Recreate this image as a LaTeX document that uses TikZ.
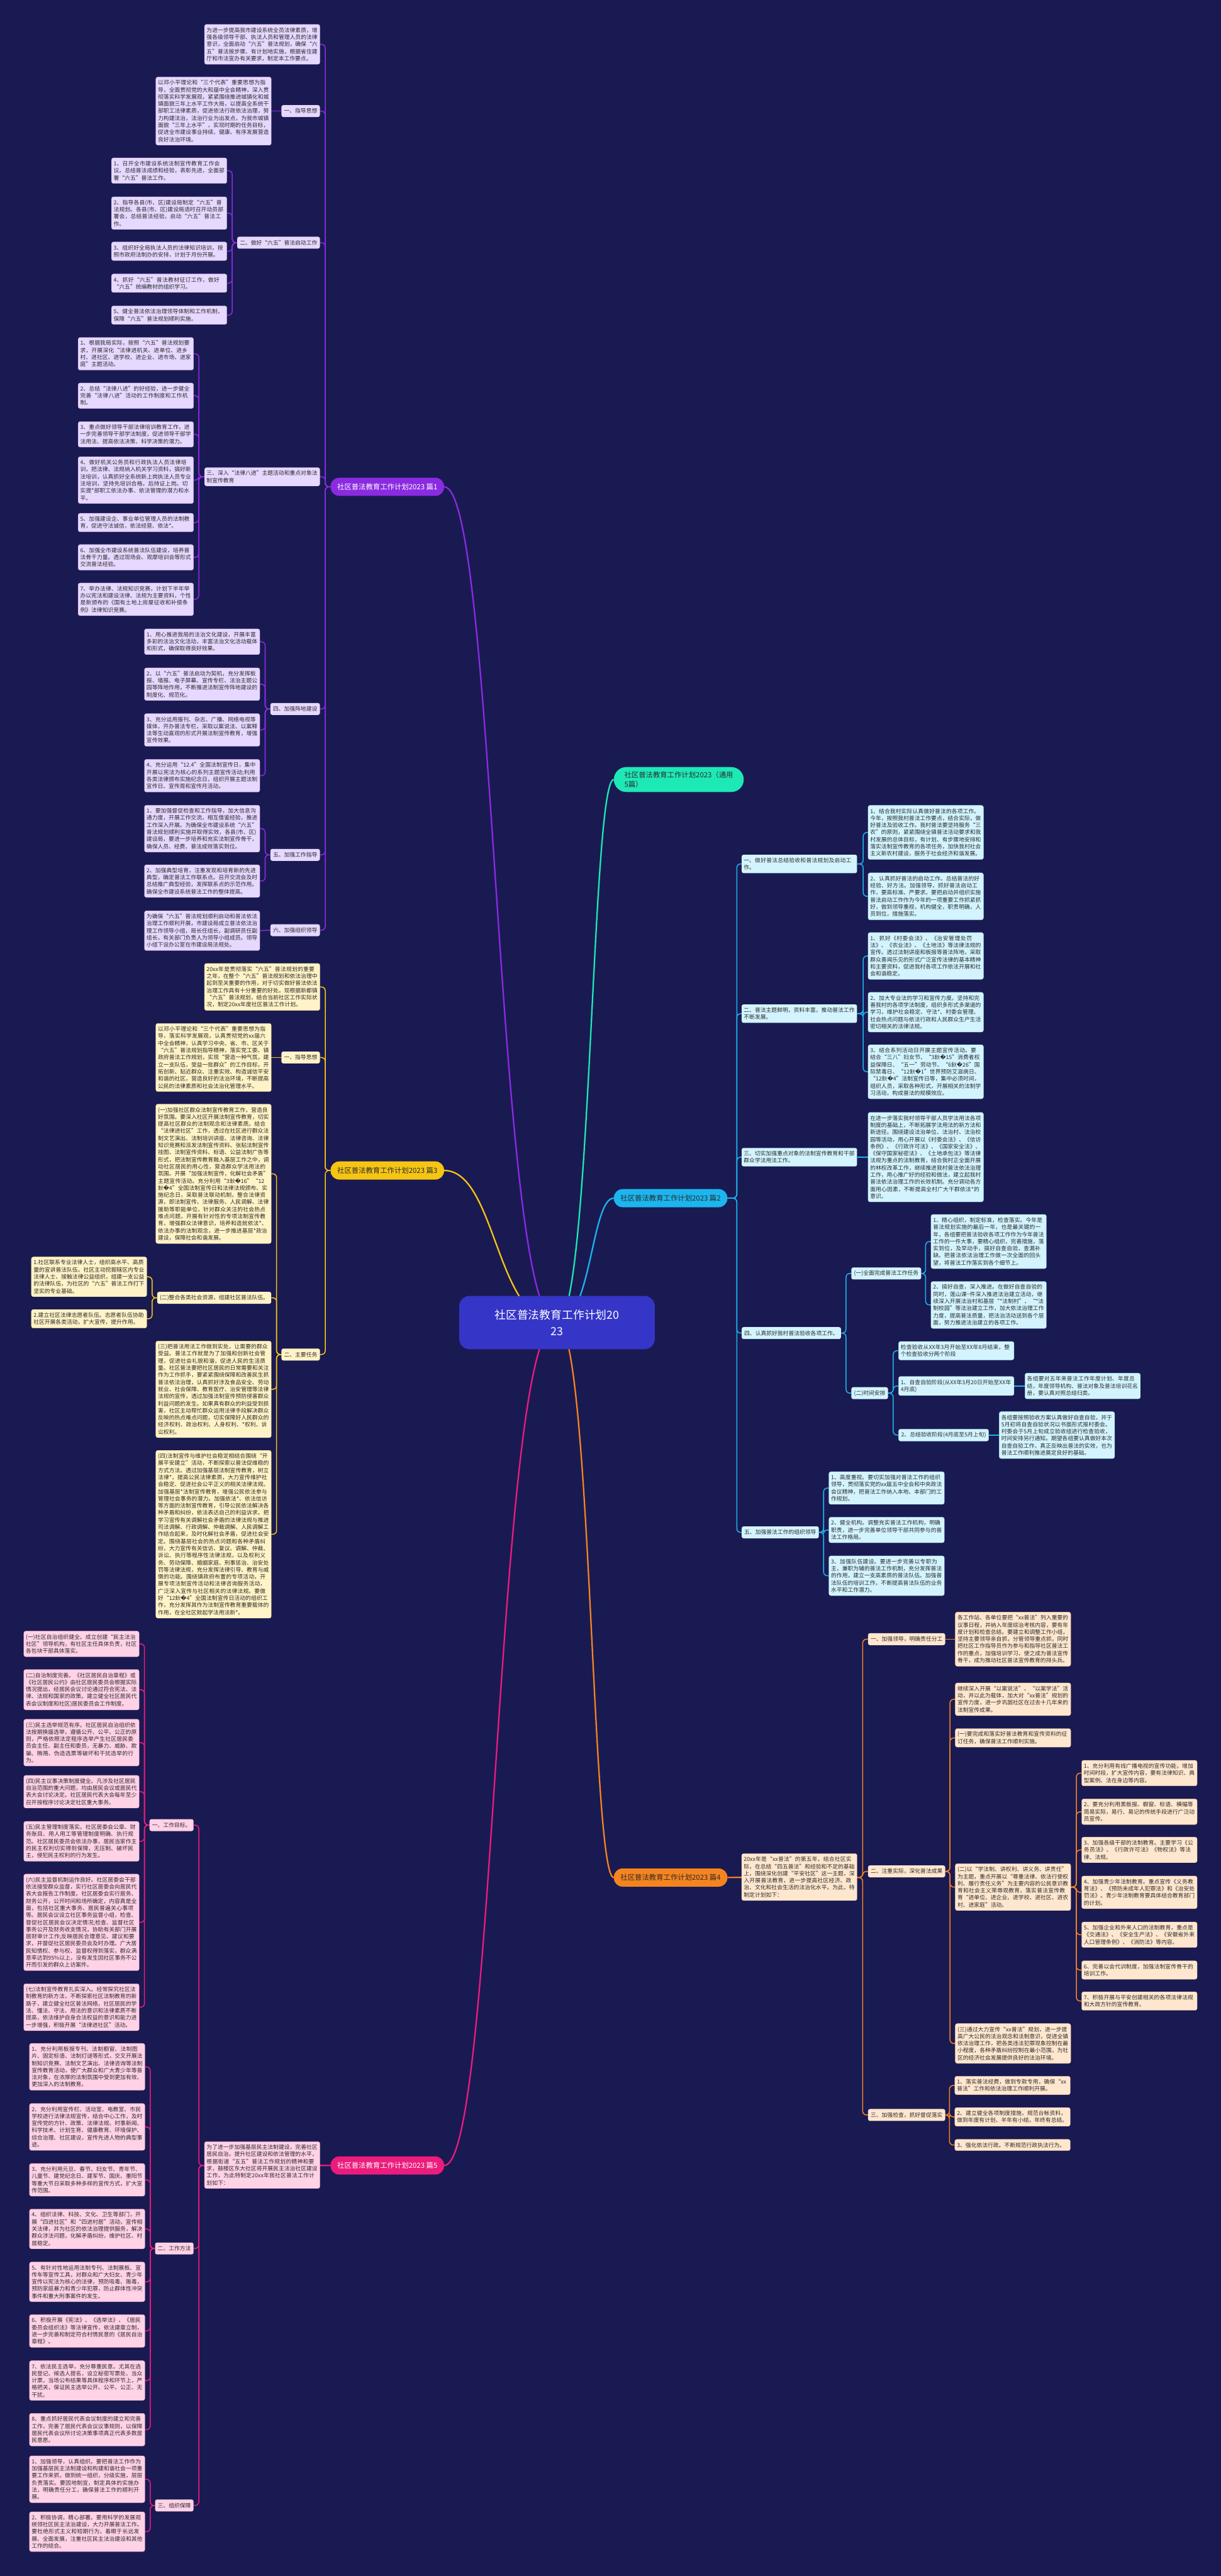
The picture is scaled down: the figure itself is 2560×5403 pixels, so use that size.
\documentclass[tikz,border=0pt]{standalone}
\usepackage{fontspec}
\setmainfont{Noto Sans CJK SC}
\newfontfamily\dvs{DejaVu Sans}
\usepackage{tikz}
\usetikzlibrary{calc}
\XeTeXlinebreaklocale "zh"
\XeTeXlinebreakskip=0pt plus 1pt

\definecolor{bgc}{HTML}{1A1A52}
\definecolor{rootc}{HTML}{3535C8}
\definecolor{pc}{HTML}{8A2BE2}
\definecolor{pl}{HTML}{E6D8FF}
\definecolor{yc}{HTML}{F6C514}
\definecolor{yl}{HTML}{FFF3C7}
\definecolor{kc}{HTML}{EC1C7C}
\definecolor{kl}{HTML}{FFD2E6}
\definecolor{cc}{HTML}{1CB5EE}
\definecolor{cl}{HTML}{D3F4FF}
\definecolor{oc}{HTML}{F5841F}
\definecolor{ol}{HTML}{FFE7CF}
\definecolor{tc}{HTML}{1DE9B6}
\definecolor{txt}{HTML}{2B2B2B}

\newcommand\leaffnt{\fontsize{11.6}{14.9}\selectfont}
\newcommand\topicfnt{\fontsize{15}{20}\selectfont}
\newcommand\bad{{\dvs �}}

\pgfdeclarelayer{bg}
\pgfsetlayers{bg,main}

\tikzset{
  box/.style={rounded corners=4pt, inner xsep=4.5pt, inner ysep=6.5pt, text width=233pt, align=left, font=\leaffnt, text=txt},
  tag/.style={rounded corners=4pt, inner xsep=5.5pt, inner ysep=4pt, minimum height=25pt, font=\leaffnt, text=txt},
  wtag/.style={tag, text width=233pt, align=left, inner xsep=4.5pt, inner ysep=6.5pt},
  topic/.style={rounded corners=18pt, minimum height=38pt, inner xsep=14pt, font=\topicfnt},
  pbox/.style={box, fill=pl, draw=pc!40},
  ybox/.style={box, fill=yl, draw=yc!50},
  kbox/.style={box, fill=kl, draw=kc!40},
  cbox/.style={box, fill=cl, draw=cc!40},
  obox/.style={box, fill=ol, draw=oc!40},
  plk/.style={draw=pc, line width=2pt, rounded corners=8pt},
  ylk/.style={draw=yc, line width=2pt, rounded corners=8pt},
  klk/.style={draw=kc, line width=2pt, rounded corners=8pt},
  clk/.style={draw=cc, line width=2pt, rounded corners=8pt},
  olk/.style={draw=oc, line width=2pt, rounded corners=8pt}
}

\begin{document}
\begin{tikzpicture}[x=1pt, y=-1pt]
  \useasboundingbox (0,0) rectangle (2560,5403);
  \begin{pgfonlayer}{bg}
    \fill[bgc] (0,0) rectangle (2560,5403);
  \end{pgfonlayer}

  % root and main topics
  \node[rounded corners=22pt, fill=rootc, text=white, minimum width=410pt, minimum height=112pt, align=center, font=\fontsize{23.5}{34}\selectfont] (r) at (1168,2774) {社区普法教育工作计划20\\23};
  \node[topic, fill=pc, text=white, anchor=west] (p) at (693,1021) {社区普法教育工作计划2023 篇1};
  \node[topic, fill=yc, text=txt, anchor=west] (y) at (693,2455) {社区普法教育工作计划2023 篇3};
  \node[topic, fill=kc, text=white, anchor=west] (k) at (693,4542) {社区普法教育工作计划2023 篇5};
  \node[rounded corners=26pt, fill=tc, text=txt, anchor=west, align=left, inner xsep=22pt, inner ysep=9pt, font=\topicfnt] (t) at (1287,1635) {社区普法教育工作计划2023（通用\\5篇）};
  \node[topic, fill=cc, text=txt, anchor=west] (c) at (1287,2513) {社区普法教育工作计划2023 篇2};
  \node[topic, fill=oc, text=txt, anchor=west] (o) at (1287,3938) {社区普法教育工作计划2023 篇4};

  % 篇1
  \node[pbox, anchor=east] (pa) at (671,93) {为进一步提高我市建设系统全员法律素质，增强各级领导干部、执法人员和管理人员的法律意识，全面启动“六五”普法规划，确保“六五”普法按步骤、有计划地实施，根据省住建厅和市法宣办有关要求，制定本工作要点。};
  \node[tag, fill=pl, anchor=east] (p1) at (671,233) {一、指导思想};
  \node[pbox, anchor=east] (p1a) at (569,233) {以邓小平理论和“三个代表”重要思想为指导，全面贯彻党的大和届中全会精神，深入贯彻落实科学发展观，紧紧围绕推进城镇化和城镇面貌三年上水平工作大局，以提高全系统干部职工法律素质，促进依法行政依法治理，努力构建法治，法治行业为出发点，为我市城镇面貌“三年上水平”，实现时期的任务目标，促进全市建设事业持续、健康、有序发展营造良好法治环境。};
  \node[tag, fill=pl, anchor=east] (p2) at (671,509) {二、做好“六五”普法启动工作};
  \node[pbox, anchor=east] (p2a) at (476,358) {1、召开全市建设系统法制宣传教育工作会议。总结普法成绩和经验，表彰先进，全面部署“六五”普法工作。};
  \node[pbox, anchor=east] (p2b) at (476,447) {2、指导各县(市、区)建设局制定“六五”普法规划。各县(市、区)建设局适时召开动员部署会，总结普法经验，启动“六五”普法工作。};
  \node[pbox, anchor=east] (p2c) at (476,527) {3、组织好全局执法人员的法律知识培训，按照市政府法制办的安排，计划于月份开展。};
  \node[pbox, anchor=east] (p2d) at (476,594) {4、抓好“六五”普法教材征订工作，做好“六五”统编教材的组织学习。};
  \node[pbox, anchor=east] (p2e) at (476,661) {5、健全普法依法治理领导体制和工作机制，保障“六五”普法规划顺利实施。};
  \node[wtag, fill=pl, anchor=east] (p3) at (671,1000) {三、深入“法律八进”主题活动和重点对象法制宣传教育};
  \node[pbox, anchor=east] (p3a) at (406,742) {1、根据我局实际，按照“六五”普法规划要求，开展深化“法律进机关、进单位、进乡村、进社区、进学校、进企业、进市场、进家庭”主题活动。};
  \node[pbox, anchor=east] (p3b) at (406,830) {2、总结“法律八进”的好经验，进一步健全完善“法律八进”活动的工作制度和工作机制。};
  \node[pbox, anchor=east] (p3c) at (406,911) {3、重点做好领导干部法律培训教育工作，进一步完善领导干部学法制度，促进领导干部学法用法、提高依法决策、科学决策的潜力。};
  \node[pbox, anchor=east] (p3d) at (406,1007) {4、做好机关公务员和行政执法人员法律培训，把法律、法规纳入机关学习资料，搞好新法培训，认真抓好全系统新上岗执法人员专业法培训，坚持先培训合格，后持证上岗。切实提*部职工依法办事、依法管理的潜力和水平。};
  \node[pbox, anchor=east] (p3e) at (406,1096) {5、加强建设企、事业单位管理人员的法制教育，促进守法诚信，依法经营、依法*。};
  \node[pbox, anchor=east] (p3f) at (406,1169) {6、加强全市建设系统普法队伍建设，培养普法骨干力量。透过现场会、观摩培训会等形式交流普法经验。};
  \node[pbox, anchor=east] (p3g) at (406,1257) {7、举办法律、法规知识竞赛，计划下半年举办以宪法和建设法律、法规为主要资料，个性是新颁布的《国有土地上房屋征收和补偿条例》法律知识竞赛。};
  \node[tag, fill=pl, anchor=east] (p4) at (671,1487) {四、加强阵地建设};
  \node[pbox, anchor=east] (p4a) at (545,1346) {1、用心推进我局的法治文化建设，开展丰富多彩的法治文化活动，丰富法治文化活动载体和形式，确保取得良好效果。};
  \node[pbox, anchor=east] (p4b) at (545,1435) {2、以“六五”普法启动为契机，充分发挥板报、墙报、电子屏幕、宣传专栏、法治主题公园等阵地作用，不断推进法制宣传阵地建设的制度化、规范化。};
  \node[pbox, anchor=east] (p4c) at (545,1531) {3、充分运用报刊、杂志、广播、网络电视等媒体，开办普法专栏，采取以案说法、以案释法等生动直观的形式开展法制宣传教育，增强宣传效果。};
  \node[pbox, anchor=east] (p4d) at (545,1627) {4、充分运用“12.4”全国法制宣传日，集中开展以宪法为核心的系列主题宣传活动;利用各类法律颁布实施纪念日，组织开展主题法制宣传日、宣传周和宣传月活动。};
  \node[tag, fill=pl, anchor=east] (p5) at (671,1793) {五、加强工作指导};
  \node[pbox, anchor=east] (p5a) at (545,1738) {1、要加强督促检查和工作指导，加大信息沟通力度，开展工作交流，相互借鉴经验，推进工作深入开展。为确保全市建设系统“六五”普法规划顺利实施并取得实效，各县(市、区)建设局，要进一步培养和充实法制宣传骨干，确保人员、经费、普法成效落实到位。};
  \node[pbox, anchor=east] (p5b) at (545,1848) {2、加强典型培育，注重发现和培育新的先进典型，确定普法工作联系点。召开交流会及时总结推广典型经验，发挥联系点的示范作用。确保全市建设系统普法工作的整体提高。};
  \node[tag, fill=pl, anchor=east] (p6) at (671,1951) {六、加强组织领导};
  \node[pbox, anchor=east] (p6a) at (545,1952) {为确保“六五”普法规划顺利启动和普法依法治理工作顺利开展，市建设局成立普法依法治理工作领导小组，局长任组长，副调研员任副组长，有关部门负责人为领导小组成员。领导小组下设办公室在市建设局法规处。};

  % 篇3
  \node[ybox, anchor=east] (ya) at (671,2070) {20xx年是贯彻落实“六五”普法规划的重要之年，在整个“六五”普法规划和依法治理中起到至关重要的作用，对于切实做好普法依法治理工作具有十分重要的好处。现根据新都镇“六五”普法规划，结合当前社区工作实际状况，制定20xx年度社区普法工作计划。};
  \node[tag, fill=yl, anchor=east] (y1) at (671,2218) {一、指导思想};
  \node[ybox, anchor=east] (y1a) at (569,2218) {以邓小平理论和“三个代表”重要思想为指导，落实科学发展观，认真贯彻党的xx届六中全会精神，认真学习中央、省、市、区关于“六五”普法规划指导精神，落实党工委、镇政府普法工作规划，实现“营造一种气氛，建立一支队伍，受益一批群众”的工作目标，开拓创新、贴近群众、注重实效、构造诚信平安和谐的社区，营造良好的法治环境，不断提高公民的法律素质和社会法治化管理水平。};
  \node[tag, fill=yl, anchor=east] (y2) at (671,2841) {二、主要任务};
  \node[ybox, anchor=east] (y2a) at (569,2462) {(一)加强社区群众法制宣传教育工作，营造良好氛围。要深入社区开展法制宣传教育，切实提高社区群众的法制观念和法律素质。结合“法律进社区”工作，透过在社区进行群众法制文艺演出、法制培训讲座、法律咨询、法律知识竞赛和派发法制宣传资料、张贴法制宣传挂图、法制宣传资料、标语、公益法制广告等形式，把法制宣传教育融入基层工作之中，调动社区居民的用心性，营造群众学法用法的氛围。开展“加强法制宣传，化解社会矛盾”主题宣传活动。充分利用“3鈥\bad16”“12鈥\bad4”全国法制宣传日和法律法规颁布、实施纪念日，采取普法联动机制，整合法律资源，即法制宣传、法律服务、人民调解、法律援助等职能单位，针对群众关注的社会热点难点问题，开展有针对性的专项法制宣传教育，增强群众法律意识，培养和造就依法*、依法办事的法制观念，进一步推进基层*政治建设，保障社会和谐发展。};
  \node[tag, fill=yl, anchor=east] (y2b) at (569,2722) {(二)整合各类社会资源，组建社区普法队伍。};
  \node[ybox, anchor=east] (y2b1) at (308,2678) {1.社区联系专业法律人士，组织高水平、高质量的宣讲普法队伍。社区主动挖掘辖区内专业法律人士、接触法律公益组织，组建一支公益的法律队伍，为社区的“六五”普法工作打下坚实的专业基础。};
  \node[ybox, anchor=east] (y2b2) at (308,2766) {2.建立社区法律志愿者队伍。志愿者队伍协助社区开展各类活动，扩大宣传，提升作用。};
  \node[ybox, anchor=east] (y2c) at (569,2914) {(三)把普法用法工作做到实处，让需要的群众受益。普法工作就是为了加强和创新社会管理，促进社会礼貌和谐，促进人民的生活质量。社区普法要把社区居民的日常需要和关注作为工作抓手，要紧紧围绕保障和改善民生抓普法依法治理，认真抓好涉及食品安全、劳动就业、社会保障、教育医疗、治安管理等法律法规的宣传，透过加强法制宣传预防侵害群众利益问题的发生。如果真有群众的利益受到损害，社区主动帮忙群众运用法律手段解决群众反映的热点难点问题，切实保障好人民群众的经济权利、政治权利、人身权利、*权利、诉讼权利。};
  \node[ybox, anchor=east] (y2d) at (569,3218) {(四)法制宣传与维护社会稳定相结合围绕“开展平安建立”活动，不断探索以普法促维稳的方式方法。透过加强基层法制宣传教育，树立法律*，提高公民法律素质，大力宣传维护社会稳定、促进社会公平正义的相关法律法规。加强基层*法制宣传教育，增强公民依法参与管理社会事务的潜力。加强依法*、依法信访等方面的法制宣传教育，引导公民依法解决各种矛盾和纠纷，依法表达自己的利益诉求。把学习宣传有关调解社会矛盾的法律法规与推进司法调解、行政调解、仲裁调解、人民调解工作结合起来，及时化解社会矛盾，促进社会安定。围绕基层社会的热点问题和各种矛盾纠纷，大力宣传有关信访、复议、调解、仲裁、诉讼、执行等程序性法律法规，以及权利义务、劳动保障、婚姻家庭、刑事惩治、治安处罚等法律法规，充分发挥法律引导、教育与威慑的功能。围绕镇政府布置的专项活动，开展专项法制宣传活动和法律咨询服务活动，广泛深入宣传与社区相关的法律法规。要做好“12鈥\bad4”全国法制宣传日活动的组织工作，充分发挥其作为法制宣传教育重要载体的作用，在全社区掀起学法用法新*。};

  % 篇5
  \node[tag, fill=kl, anchor=east] (k1) at (406,3828) {一、工作目标。};
  \node[kbox, anchor=east] (k1a) at (292,3448) {(一)社区自治组织健全。成立创建“民主法治社区”领导机构，有社区主任具体负责，社区各包块干部具体落实。};
  \node[kbox, anchor=east] (k1b) at (292,3544) {(二)自治制度完善。《社区居民自治章程》或《社区居民公约》由社区居民委员会根据实际情况提出，经居民会议讨论通过符合宪法、法律、法规和国家的政策。建立健全社区居民代表会议制度和社区)居民委员会工作制度。};
  \node[kbox, anchor=east] (k1c) at (292,3655) {(三)民主选举规范有序。社区居民自治组织依法按期换届选举，遵循公开、公平、公正的原则，严格依照法定程序选举产生社区居民委员会主任、副主任和委员，无暴力、威胁、欺骗、贿赂、伪造选票等破坏和干扰选举的行为。};
  \node[kbox, anchor=east] (k1d) at (292,3758) {(四)民主议事决策制度健全。凡涉及社区居民自治范围的重大问题，均由居民会议或居民代表大会讨论决定。社区居民代表大会每年至少召开按程序讨论决定社区重大事务。};
  \node[kbox, anchor=east] (k1e) at (292,3862) {(五)民主管理制度落实。社区居委会公章、财务账目、用人用工等管理制度明确、执行规范。社区居民委员会依法办事，居民当家作主的民主权利切实得到保障，无压制、破坏民主，侵犯民主权利的行为发生。};
  \node[kbox, anchor=east] (k1f) at (292,4032) {(六)民主监督机制运作良好。社区居委会干部依法接受群众监督，实行社区居委会向居民代表大会报告工作制度。社区居委会实行居务、财务公开，公开时间和场所确定，内容真是全面，包括社区重大事务、居民普遍关心事项等。居民会议设立社区事务监督小组，检查、督促社区居民会议决定情况;检查、监督社区事务公开及财务收支情况，协助有关部门开展居财审计工作;反映居民合理意见、建议和要求，并督促社区居民委员会及时办理。广大居民知情权、参与权、监督权得到落实，群众满意率达到95\%以上，没有发生因社区事务不公开而引发的群众上访案件。};
  \node[kbox, anchor=east] (k1g) at (292,4210) {(七)法制宣传教育扎实深入。经常探究社区法制教育的新方法，不断探索社区法制教育的新路子，建立健全社区普法网络，社区居民的学法、懂法、守法、用法的意识和法律素质不断提高，依法维护自身合法权益的意识和能力进一步增强，积极开展“法律进社区”活动。};
  \node[kbox, anchor=east] (kb) at (671,4541) {为了进一步加强基层民主法制建设，完善社区居民自治，提升社区建设和依法管理的水平，根据街道“五五”普法工作规划的精神和要求，鼓楼区东大社区将开展民主法治社区建设工作，为此特制定20xx年我社区普法工作计划如下：};
  \node[tag, fill=kl, anchor=east] (k2) at (406,4716) {二、工作方法};
  \node[kbox, anchor=east] (k2a) at (304,4335) {1、充分利用板报专刊、法制橱窗、法制图片、固定标语、法制灯谜等形式，交叉开展法制知识竞赛、法制文艺演出、法律咨询等法制宣传教育活动，使广大群众和广大青少年等普法对象，在浓厚的法制氛围中受到更加有效、更加深入的法制教育。};
  \node[kbox, anchor=east] (k2b) at (304,4461) {2、充分利用宣传栏、活动室、电教室、市民学校进行法律法规宣传，结合中心工作，及时宣传党的方针、政策、法律法规、时事新闻、科学技术、计划生育、健康教育、环境保护、综合治理、社区建设，宣传先进人物的典型事迹。};
  \node[kbox, anchor=east] (k2c) at (304,4572) {3、充分利用元旦、春节、妇女节、青年节、儿童节、建党纪念日、建军节、国庆、重阳节等重大节日采取多种多样的宣传方式，扩大宣传范围。};
  \node[kbox, anchor=east] (k2d) at (304,4675) {4、组织法律、科技、文化、卫生等部门，开展“四进社区”和“四进村居”活动，宣传相关法律，并为社区的依法治理提供服务，解决群众涉法问题，化解矛盾纠纷，维护社区、村居稳定。};
  \node[kbox, anchor=east] (k2e) at (304,4786) {5、有针对性地运用法制专刊、法制展板、宣传车等宣传工具，对群众和广大妇女、青少年宣传以宪法为核心的法律，预防吸毒、贩毒，预防家庭暴力和青少年犯罪，防止群体性冲突事件和重大刑事案件的发生。};
  \node[kbox, anchor=east] (k2f) at (304,4889) {6、积极开展《宪法》、《选举法》、《居民委员会组织法》等法律宣传，依法建章立制，进一步完善和制定符合村情民意的《居民自治章程》。};
  \node[kbox, anchor=east] (k2g) at (304,4993) {7、依法民主选举，充分尊重民意。尤其在选民登记、候选人提名，设立秘密写票处、当众计票，当场公布结果等具体程序和环节上，严格把关，保证民主选举公开、公平、公正、无干扰。};
  \node[kbox, anchor=east] (k2h) at (304,5096) {8、重点抓好居民代表会议制度的建立和完善工作，完善了居民代表会议议事规则，以保障居民代表会议所讨论决策事项真正代表多数居民意愿。};
  \node[tag, fill=kl, anchor=east] (k3) at (406,5255) {三、组织保障};
  \node[kbox, anchor=east] (k3a) at (304,5200) {1、加强领导，认真组织。要把普法工作作为加强基层民主法制建设和构建和谐社会一项重要工作来抓，做到统一组织，分级实施，层层负责落实。要因地制宜，制定具体的实施办法，明确责任分工，确保普法工作的顺利开展。};
  \node[kbox, anchor=east] (k3b) at (304,5310) {2、积极协调，精心部署。要用科学的发展观统领社区民主法治建设，大力开展普法工作。要杜绝形式主义和短期行为，着眼于长远发展、全面发展，注重社区民主法治建设和其他工作的结合。};

  % 篇2
  \node[wtag, fill=cl, anchor=west] (c1) at (1555,1812) {一、做好普法总结验收和普法规划及启动工作。};
  \node[cbox, anchor=west] (c1a) at (1820,1746) {1、结合我村实际认真做好普法的各项工作。今年，按照我村普法工作要点，结合实际，做好普法及验收工作。我村普法要坚持服务“三农”的原则，紧紧围绕全镇普法活动要求和我村发展的总体目标，有计划、有步骤地安排和落实法制宣传教育的各项任务，加快我村社会主义新农村建设，服务于社会经济和谐发展。};
  \node[cbox, anchor=west] (c1b) at (1820,1880) {2、认真抓好普法的启动工作。总结普法的好经验、好方法。加强领导，抓好普法启动工作，要高标准、严要求。要把启动并组织实施普法启动工作作为今年的一项重要工作抓紧抓好，做到领导重视，机构健全，职责明确，人员到位，措施落实。};
  \node[wtag, fill=cl, anchor=west] (c2) at (1555,2126) {二、普法主题鲜明，资料丰富，推动普法工作不断发展。};
  \node[cbox, anchor=west] (c2a) at (1820,2005) {1、抓好《村委会法》、《治安管理处罚法》、《农业法》、《土地法》等法律法规的宣传。透过法制讲座和板报等普法阵地，采取群众喜闻乐见的形式广泛宣传法律的基本精神和主要资料，促进我村各项工作依法开展和社会和谐稳定。};
  \node[cbox, anchor=west] (c2b) at (1820,2123) {2、加大专业法的学习和宣传力度。坚持和完善我村的各项学法制度，组织多形式多渠道的学习，维护社会稳定、守法*、村委会管理、社会热点问题与依法行政和人民群众生产生活密切相关的法律法规。};
  \node[cbox, anchor=west] (c2c) at (1820,2248) {3、结合系列活动日开展主题宣传活动。要结合“三八”妇女节、“3鈥\bad15”消费者权益保障日、“五一”劳动节、“6鈥\bad26”国际禁毒日、“12鈥\bad1”世界预防艾滋病日、“12鈥\bad4”法制宣传日等，集中必须时间，组织人员，采取各种形式，开展相关的法制学习活动，构成普法的规模效应。};
  \node[wtag, fill=cl, anchor=west] (c3) at (1555,2427) {三、切实加强重点对象的法制宣传教育和干部群众学法用法工作。};
  \node[cbox, anchor=west] (c3a) at (1820,2427) {在进一步落实我村领导干部人员学法用法各项制度的基础上，不断拓展学法用法的新方法和新途径。围绕建设法治单位、法治村、法治校园等活动，用心开展以《村委会法》、《信访条例》、《行政许可法》、《国家安全法》、《保守国家秘密法》、《土地承包法》等法律法规为重点的法制教育，结合我村正全面开展的林权改革工作，继续推进我村普法依法治理工作，用心推广好的经验和做法，建立起我村普法依法治理工作的长效机制。充分调动各方面用心因素，不断提高全村广大干群依法*的意识。};
  \node[tag, fill=cl, anchor=west] (c4) at (1555,2796) {四、认真抓好我村普法验收各项工作。};
  \node[tag, fill=cl, anchor=west] (c4a) at (1785,2671) {(一)全面完成普法工作任务};
  \node[cbox, anchor=west] (c4a1) at (1952,2604) {1、精心组织，制定标准，检查落实。今年是普法规划实施的最后一年，也是最关键的一年，各组要把普法验收各项工作作为今年普法工作的一件大事，要精心组织，完善措施，落实到位，及早动手，搞好自查自验，查漏补缺。把普法依法治理工作做一次全面的回头望，将普法工作落实到各个细节上。};
  \node[cbox, anchor=west] (c4a2) at (1952,2737) {2、搞好自查，深入推进。在做好自查自验的同时，莲山课\textasciitilde 件深入推进法治建立活动，继续深入开展法治村和基层“*法制村”、“*法制校园”等法治建立工作，加大依法治理工作力度，提高普法质量，把法治活动送到各个层面，努力推进法治建立的各项工作。};
  \node[tag, fill=cl, anchor=west] (c4b) at (1785,2922) {(二)时间安排};
  \node[cbox, anchor=west] (c4b1) at (1884,2833) {检查验收从XX年3月开始至XX年8月结束，整个检查验收分两个阶段};
  \node[wtag, fill=cl, draw=cc!40, anchor=west] (c4b2) at (1884,2907) {1、自查自验阶段(从XX年3月20日开始至XX年4月底)};
  \node[cbox, anchor=west] (c4b2a) at (2149,2907) {各组要对五年来普法工作年度计划、年度总结，年度领导机构、普法对象及普法培训花名册，要认真对照总结归类。};
  \node[tag, fill=cl, draw=cc!40, anchor=west] (c4b3) at (1884,3010) {2、总结验收阶段(4月底至5月上旬)};
  \node[cbox, anchor=west] (c4b3a) at (2095,3010) {各组要按照验收方案认真做好自查自验，并于5月初将自查自验状况以书面形式报村委会。村委会于5月上旬成立验收组进行检查验收，时间安排另行通知。期望各组要认真做好本次自查自验工作，真正反映出普法的实效，也为普法工作顺利推进奠定良好的基础。};
  \node[tag, fill=cl, anchor=west] (c5) at (1555,3214) {五、加强普法工作的组织领导};
  \node[cbox, anchor=west] (c5a) at (1738,3121) {1、高度重视。要切实加强对普法工作的组织领导，贯彻落实党的xx届五中全会和中央政法会议精神，把普法工作纳入本地、本部门的工作规划。};
  \node[cbox, anchor=west] (c5b) at (1738,3209) {2、健全机构。调整充实普法工作机构，明确职责，进一步完善单位领导干部共同参与的普法工作格局。};
  \node[cbox, anchor=west] (c5c) at (1738,3305) {3、加强队伍建设。要进一步完善以专职为主，兼职为辅的普法工作机制，充分发挥普法的作用，建立一支高素质的普法队伍。加强普法队伍的培训工作，不断提高普法队伍的业务水平和工作潜力。};

  % 篇4
  \node[tag, fill=ol, anchor=west] (o1) at (1820,3438) {一、加强领导，明确责任分工};
  \node[obox, anchor=west] (o1a) at (2003,3438) {各工作站、各单位要把“xx普法”列入重要的议事日程，并纳入年度综治考核内容，要有年度计划和检查总结。要建立和调整工作小组，坚持主要领导亲自抓，分管领导重点抓，同时把社区工作指导员作为参与和指导社区普法工作的重点，加强培训学习，使之成为普法宣传骨干，成为推动社区普法宣传教育的排头兵。};
  \node[obox, anchor=west] (ob) at (1555,3937) {20xx年是“xx普法”的第五年，结合社区实际，在总结“四五普法”和经验和不足的基础上，围绕深化创建“平安社区”这一主题，深入开展普法教育，进一步提高社区经济、政治、文化和社会生活的法治化水平。为此，特制定计划如下：};
  \node[tag, fill=ol, anchor=west] (o2) at (1820,3925) {二、注重实际，深化普法成果};
  \node[obox, anchor=west] (o2a) at (2003,3564) {继续深入开展“以案说法”、“以案学法”活动，并以此为载体，加大对“xx普法”规划的宣传力度，进一步巩固社区在过去十几年来的法制宣传成果。};
  \node[obox, anchor=west] (o2b) at (2003,3645) {(一)要完成和落实好普法教育和宣传资料的征订任务，确保普法工作顺利实施。};
  \node[obox, anchor=west] (o2c) at (2003,3958) {(二)以“学法制、讲权利、讲义务、讲责任”为主题，重点开展以“尊重法律、依法行使权利、履行责任义务”为主要内容的公民意识教育和社会主义荣辱观教育，落实普法宣传教育“进单位、进企业、进学校、进社区、进农村、进家庭”活动。};
  \node[obox, anchor=west] (o2c1) at (2268,3719) {1、充分利用有线广播电视的宣传功能，增加时间时段，扩大宣传内容，要有法律知识、典型案例、法在身边等内容。};
  \node[obox, anchor=west] (o2c2) at (2268,3800) {2、要充分利用黑板报、橱窗、标语、横幅等简易实际，易行、易记的传统手段进行广泛动员宣传。};
  \node[obox, anchor=west] (o2c3) at (2268,3880) {3、加强各级干部的法制教育。主要学习《公务员法》、《行政许可法》《物权法》等法律、法规。};
  \node[obox, anchor=west] (o2c4) at (2268,3969) {4、加强青少年法制教育。重点宣传《义务教育法》、《预防未成年人犯罪法》和《治安处罚法》。青少年法制教育要具体结合教育部门的计划。};
  \node[obox, anchor=west] (o2c5) at (2268,4058) {5、加强企业和外来人口的法制教育，重点是《交通法》、《安全生产法》、《安徽省外来人口管理条例》、《消防法》等内容。};
  \node[obox, anchor=west] (o2c6) at (2268,4132) {6、完善以会代训制度，加强法制宣传骨干的培训工作。};
  \node[obox, anchor=west] (o2c7) at (2268,4197) {7、积极开展与平安创建相关的各项法律法规和大政方针的宣传教育。};
  \node[obox, anchor=west] (o2d) at (2003,4286) {(三)通过大力宣传“xx普法”规划，进一步提高广大公民的法治观念和法制意识，促进全镇依法治理工作，把各类违法犯罪现象控制在最小程度，各种矛盾纠纷控制在最小范围，为社区的经济社会发展提供良好的法治环境。};
  \node[tag, fill=ol, anchor=west] (o3) at (1820,4436) {三、加强检查，抓好督促落实};
  \node[obox, anchor=west] (o3a) at (2002,4374) {1、落实普法经费，做到专款专用，确保“xx普法”工作和依法治理工作顺利开展。};
  \node[obox, anchor=west] (o3b) at (2002,4440) {2、建立健全各项制度措施，规范台帐资料，做到年度有计划、半年有小结，年终有总结。};
  \node[obox, anchor=west] (o3c) at (2002,4499) {3、强化依法行政。不断规范行政执法行为。};

  % connectors
  \begin{pgfonlayer}{bg}
    \draw[pc, line width=3pt] (r.center) .. controls (1040,2774) and (1040,1021) .. (p.east);
    \draw[yc, line width=3pt] (r.center) .. controls (1040,2774) and (1040,2455) .. (y.east);
    \draw[kc, line width=3pt] (r.center) .. controls (1040,2774) and (1040,4542) .. (k.east);
    \draw[tc, line width=3pt] (r.center) .. controls (1240,2774) and (1240,1635) .. (t.west);
    \draw[cc, line width=3pt] (r.center) .. controls (1240,2774) and (1240,2513) .. (c.west);
    \draw[oc, line width=3pt] (r.center) .. controls (1240,2774) and (1240,3938) .. (o.west);

    \draw[plk] (p.west) -| ($(pa.east)+(11,0)$) -- (pa.east);
    \draw[plk] (p.west) -| ($(p1.east)+(11,0)$) -- (p1.east);
    \draw[plk] (p.west) -| ($(p2.east)+(11,0)$) -- (p2.east);
    \draw[plk] (p.west) -| ($(p3.east)+(11,0)$) -- (p3.east);
    \draw[plk] (p.west) -| ($(p4.east)+(11,0)$) -- (p4.east);
    \draw[plk] (p.west) -| ($(p5.east)+(11,0)$) -- (p5.east);
    \draw[plk] (p.west) -| ($(p6.east)+(11,0)$) -- (p6.east);
    \draw[plk] (p1.west) -- (p1a.east);
    \draw[plk] (p2.west) -| ($(p2a.east)+(11,0)$) -- (p2a.east);
    \draw[plk] (p2.west) -| ($(p2b.east)+(11,0)$) -- (p2b.east);
    \draw[plk] (p2.west) -| ($(p2c.east)+(11,0)$) -- (p2c.east);
    \draw[plk] (p2.west) -| ($(p2d.east)+(11,0)$) -- (p2d.east);
    \draw[plk] (p2.west) -| ($(p2e.east)+(11,0)$) -- (p2e.east);
    \draw[plk] (p3.west) -| ($(p3a.east)+(11,0)$) -- (p3a.east);
    \draw[plk] (p3.west) -| ($(p3b.east)+(11,0)$) -- (p3b.east);
    \draw[plk] (p3.west) -| ($(p3c.east)+(11,0)$) -- (p3c.east);
    \draw[plk] (p3.west) -| ($(p3d.east)+(11,0)$) -- (p3d.east);
    \draw[plk] (p3.west) -| ($(p3e.east)+(11,0)$) -- (p3e.east);
    \draw[plk] (p3.west) -| ($(p3f.east)+(11,0)$) -- (p3f.east);
    \draw[plk] (p3.west) -| ($(p3g.east)+(11,0)$) -- (p3g.east);
    \draw[plk] (p4.west) -| ($(p4a.east)+(11,0)$) -- (p4a.east);
    \draw[plk] (p4.west) -| ($(p4b.east)+(11,0)$) -- (p4b.east);
    \draw[plk] (p4.west) -| ($(p4c.east)+(11,0)$) -- (p4c.east);
    \draw[plk] (p4.west) -| ($(p4d.east)+(11,0)$) -- (p4d.east);
    \draw[plk] (p5.west) -| ($(p5a.east)+(11,0)$) -- (p5a.east);
    \draw[plk] (p5.west) -| ($(p5b.east)+(11,0)$) -- (p5b.east);
    \draw[plk] (p6.west) -- (p6a.east);

    \draw[ylk] (y.west) -| ($(ya.east)+(11,0)$) -- (ya.east);
    \draw[ylk] (y.west) -| ($(y1.east)+(11,0)$) -- (y1.east);
    \draw[ylk] (y.west) -| ($(y2.east)+(11,0)$) -- (y2.east);
    \draw[ylk] (y1.west) -- (y1a.east);
    \draw[ylk] (y2.west) -| ($(y2a.east)+(11,0)$) -- (y2a.east);
    \draw[ylk] (y2.west) -| ($(y2b.east)+(11,0)$) -- (y2b.east);
    \draw[ylk] (y2.west) -| ($(y2c.east)+(11,0)$) -- (y2c.east);
    \draw[ylk] (y2.west) -| ($(y2d.east)+(11,0)$) -- (y2d.east);
    \draw[ylk] (y2b.west) -| ($(y2b1.east)+(11,0)$) -- (y2b1.east);
    \draw[ylk] (y2b.west) -| ($(y2b2.east)+(11,0)$) -- (y2b2.east);

    \draw[klk] (k.west) -| ($(k1.east)+(11,0)$) -- (k1.east);
    \draw[klk] (k.west) -- (kb.east);
    \draw[klk] (k.west) -| ($(k2.east)+(11,0)$) -- (k2.east);
    \draw[klk] (k.west) -| ($(k3.east)+(11,0)$) -- (k3.east);
    \draw[klk] (k1.west) -| ($(k1a.east)+(11,0)$) -- (k1a.east);
    \draw[klk] (k1.west) -| ($(k1b.east)+(11,0)$) -- (k1b.east);
    \draw[klk] (k1.west) -| ($(k1c.east)+(11,0)$) -- (k1c.east);
    \draw[klk] (k1.west) -| ($(k1d.east)+(11,0)$) -- (k1d.east);
    \draw[klk] (k1.west) -| ($(k1e.east)+(11,0)$) -- (k1e.east);
    \draw[klk] (k1.west) -| ($(k1f.east)+(11,0)$) -- (k1f.east);
    \draw[klk] (k1.west) -| ($(k1g.east)+(11,0)$) -- (k1g.east);
    \draw[klk] (k2.west) -| ($(k2a.east)+(11,0)$) -- (k2a.east);
    \draw[klk] (k2.west) -| ($(k2b.east)+(11,0)$) -- (k2b.east);
    \draw[klk] (k2.west) -| ($(k2c.east)+(11,0)$) -- (k2c.east);
    \draw[klk] (k2.west) -| ($(k2d.east)+(11,0)$) -- (k2d.east);
    \draw[klk] (k2.west) -| ($(k2e.east)+(11,0)$) -- (k2e.east);
    \draw[klk] (k2.west) -| ($(k2f.east)+(11,0)$) -- (k2f.east);
    \draw[klk] (k2.west) -| ($(k2g.east)+(11,0)$) -- (k2g.east);
    \draw[klk] (k2.west) -| ($(k2h.east)+(11,0)$) -- (k2h.east);
    \draw[klk] (k3.west) -| ($(k3a.east)+(11,0)$) -- (k3a.east);
    \draw[klk] (k3.west) -| ($(k3b.east)+(11,0)$) -- (k3b.east);

    \draw[clk] (c.east) -| ($(c1.west)+(-10,0)$) -- (c1.west);
    \draw[clk] (c.east) -| ($(c2.west)+(-10,0)$) -- (c2.west);
    \draw[clk] (c.east) -| ($(c3.west)+(-10,0)$) -- (c3.west);
    \draw[clk] (c.east) -| ($(c4.west)+(-10,0)$) -- (c4.west);
    \draw[clk] (c.east) -| ($(c5.west)+(-10,0)$) -- (c5.west);
    \draw[clk] (c1.east) -| ($(c1a.west)+(-10,0)$) -- (c1a.west);
    \draw[clk] (c1.east) -| ($(c1b.west)+(-10,0)$) -- (c1b.west);
    \draw[clk] (c2.east) -| ($(c2a.west)+(-10,0)$) -- (c2a.west);
    \draw[clk] (c2.east) -| ($(c2b.west)+(-10,0)$) -- (c2b.west);
    \draw[clk] (c2.east) -| ($(c2c.west)+(-10,0)$) -- (c2c.west);
    \draw[clk] (c3.east) -- (c3a.west);
    \draw[clk] (c4.east) -| ($(c4a.west)+(-11,0)$) -- (c4a.west);
    \draw[clk] (c4.east) -| ($(c4b.west)+(-11,0)$) -- (c4b.west);
    \draw[clk] (c4a.east) -| ($(c4a1.west)+(-11,0)$) -- (c4a1.west);
    \draw[clk] (c4a.east) -| ($(c4a2.west)+(-11,0)$) -- (c4a2.west);
    \draw[clk] (c4b.east) -| ($(c4b1.west)+(-11,0)$) -- (c4b1.west);
    \draw[clk] (c4b.east) -| ($(c4b2.west)+(-11,0)$) -- (c4b2.west);
    \draw[clk] (c4b.east) -| ($(c4b3.west)+(-11,0)$) -- (c4b3.west);
    \draw[clk] (c4b2.east) -- (c4b2a.west);
    \draw[clk] (c4b3.east) -- (c4b3a.west);
    \draw[clk] (c5.east) -| ($(c5a.west)+(-11,0)$) -- (c5a.west);
    \draw[clk] (c5.east) -| ($(c5b.west)+(-11,0)$) -- (c5b.west);
    \draw[clk] (c5.east) -| ($(c5c.west)+(-11,0)$) -- (c5c.west);

    \draw[olk] (o.east) -| ($(o1.west)+(-11,0)$) -- (o1.west);
    \draw[olk] (o.east) -- (ob.west);
    \draw[olk] (o.east) -| ($(o2.west)+(-11,0)$) -- (o2.west);
    \draw[olk] (o.east) -| ($(o3.west)+(-11,0)$) -- (o3.west);
    \draw[olk] (o1.east) -- (o1a.west);
    \draw[olk] (o2.east) -| ($(o2a.west)+(-11,0)$) -- (o2a.west);
    \draw[olk] (o2.east) -| ($(o2b.west)+(-11,0)$) -- (o2b.west);
    \draw[olk] (o2.east) -| ($(o2c.west)+(-11,0)$) -- (o2c.west);
    \draw[olk] (o2.east) -| ($(o2d.west)+(-11,0)$) -- (o2d.west);
    \draw[olk] (o2c.east) -| ($(o2c1.west)+(-11,0)$) -- (o2c1.west);
    \draw[olk] (o2c.east) -| ($(o2c2.west)+(-11,0)$) -- (o2c2.west);
    \draw[olk] (o2c.east) -| ($(o2c3.west)+(-11,0)$) -- (o2c3.west);
    \draw[olk] (o2c.east) -| ($(o2c4.west)+(-11,0)$) -- (o2c4.west);
    \draw[olk] (o2c.east) -| ($(o2c5.west)+(-11,0)$) -- (o2c5.west);
    \draw[olk] (o2c.east) -| ($(o2c6.west)+(-11,0)$) -- (o2c6.west);
    \draw[olk] (o2c.east) -| ($(o2c7.west)+(-11,0)$) -- (o2c7.west);
    \draw[olk] (o3.east) -| ($(o3a.west)+(-11,0)$) -- (o3a.west);
    \draw[olk] (o3.east) -| ($(o3b.west)+(-11,0)$) -- (o3b.west);
    \draw[olk] (o3.east) -| ($(o3c.west)+(-11,0)$) -- (o3c.west);
  \end{pgfonlayer}
\end{tikzpicture}
\end{document}
